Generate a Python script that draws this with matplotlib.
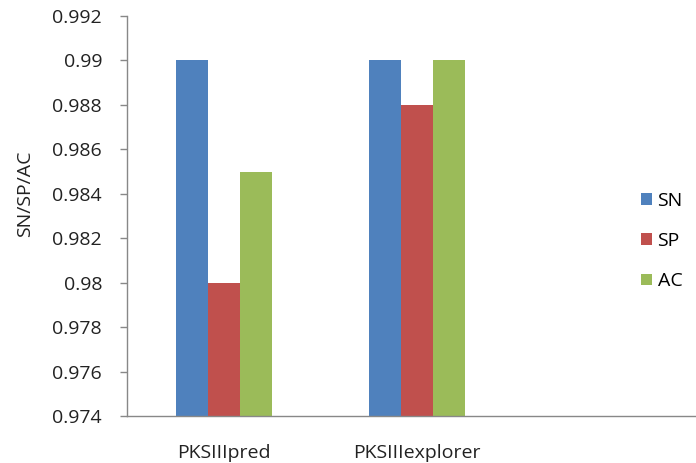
import numpy as np
import matplotlib
matplotlib.use("Agg")
import matplotlib.pyplot as plt

categories = ["PKSIIIpred", "PKSIIIexplorer"]
series_names = ["SN", "SP", "AC"]
sn = [0.990, 0.990]
sp = [0.980, 0.988]
ac = [0.985, 0.990]
colors = ["#4F81BD", "#C0504D", "#9BBB59"]
yticks = [0.974, 0.976, 0.978, 0.98, 0.982, 0.984, 0.986, 0.988, 0.99, 0.992]
ytick_labels = ["0.974", "0.976", "0.978", "0.98", "0.982", "0.984", "0.986", "0.988", "0.99", "0.992"]

plt.rcParams["font.family"] = ["Open Sans", "DejaVu Sans"]
fs = 14

W, H = 696, 463
fig = plt.figure(figsize=(W / 100, H / 100), dpi=100)
ax = fig.add_axes([127 / W, 1 - 416 / H, 1 - 127 / W, 400 / H])

x = np.arange(len(categories))
width = 32 / 193
for i, (vals, name) in enumerate(zip([sn, sp, ac], series_names)):
    ax.bar(x + (i - 1) * width, np.array(vals) - 0.974, width, bottom=0.974,
           color=colors[i], label=name, linewidth=0)

ax.set_ylim(0.974, 0.992)
ax.set_xlim(-0.5, 2.448)
ax.set_yticks(yticks)
ax.set_yticklabels(ytick_labels, fontsize=fs, color="#222222")
ax.set_xticks(x)
ax.set_xticklabels(categories, fontsize=fs, color="#222222")
ax.tick_params(axis="x", length=0, pad=20)
ax.tick_params(axis="y", length=5, width=1, color="#888888", pad=13)

for s in ["top", "right"]:
    ax.spines[s].set_visible(False)
for s in ["left", "bottom"]:
    ax.spines[s].set_color("#888888")
    ax.spines[s].set_linewidth(1)

ax.set_ylabel("SN/SP/AC", fontsize=fs, color="#222222")
ax.yaxis.set_label_coords(-(127 - 34) / 569, (416 - 194) / 400)

fig.legend(loc="center left", bbox_to_anchor=(641 / W, 1 - 241 / H), frameon=False,
           fontsize=fs, handlelength=0.55, handleheight=0.55, handletextpad=0.3,
           labelspacing=1.15, borderpad=0, borderaxespad=0)

fig.savefig("out.png", dpi=100)
